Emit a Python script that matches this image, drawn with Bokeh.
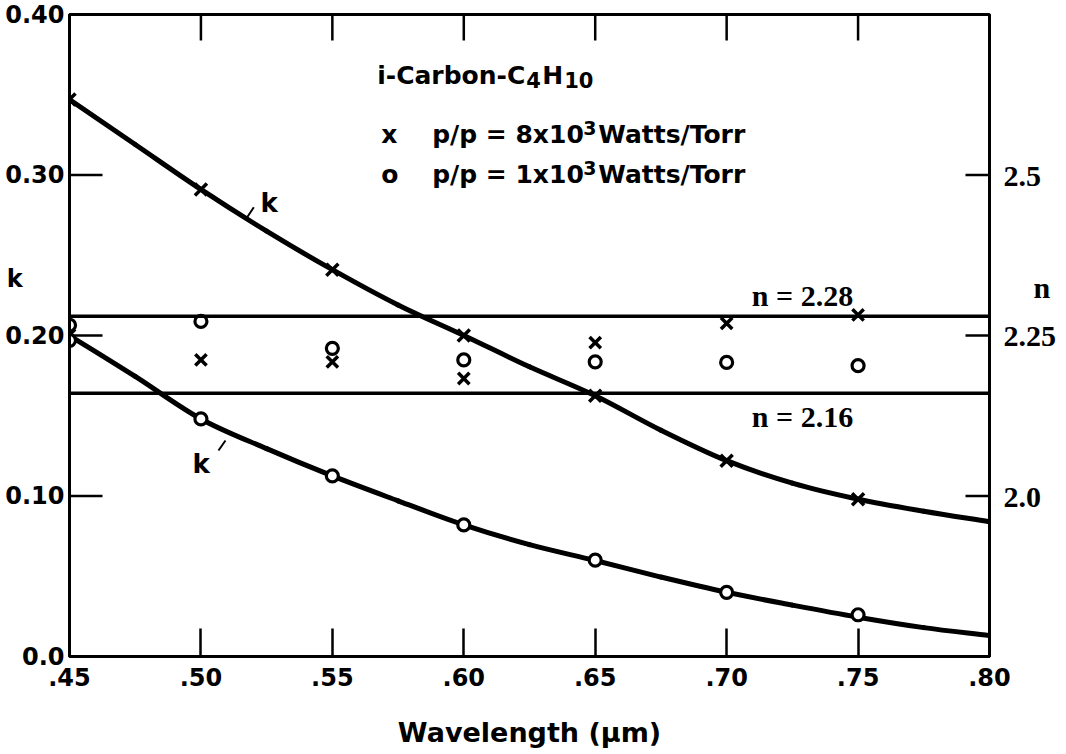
import math
import numpy as np
from bokeh.plotting import figure
from bokeh.models import (Range1d, LinearAxis, FixedTicker, CustomJSTickFormatter,
                          Span, Label)
from bokeh.embed import file_html
from bokeh.resources import INLINE

# Measured wavelengths (um)
wavelength = [0.45, 0.50, 0.55, 0.60, 0.65, 0.70, 0.75]

# Extinction coefficient k: x = 8x10^3 W/Torr, o = 1x10^3 W/Torr
k_high = [0.347, 0.291, 0.241, 0.200, 0.1625, 0.122, 0.098]
k_low = [0.197, 0.148, 0.1125, 0.082, 0.060, 0.040, 0.026]

# Refractive index n (right-hand scale)
n_high = [2.251, 2.212, 2.209, 2.183, 2.239, 2.269, 2.282]
n_low = [2.266, 2.272, 2.230, 2.212, 2.209, 2.208, 2.203]

# Smooth fitted k curves, sampled every 0.025 um
curve_wavelength = [0.45, 0.475, 0.50, 0.525, 0.55, 0.575, 0.60, 0.625,
                    0.65, 0.675, 0.70, 0.725, 0.75, 0.775, 0.80]
curve_k_high = [0.347, 0.319, 0.291, 0.265, 0.241, 0.219, 0.200, 0.1805,
                0.1625, 0.141, 0.122, 0.108, 0.098, 0.0905, 0.084]
curve_k_low = [0.200, 0.1745, 0.148, 0.1295, 0.1125, 0.097, 0.082, 0.0697,
               0.0598, 0.0495, 0.040, 0.032, 0.0245, 0.018, 0.013]

# Envelope of the measured n values
n_bounds = [2.28, 2.16]

x_ticks = [0.45, 0.50, 0.55, 0.60, 0.65, 0.70, 0.75, 0.80]
k_ticks = [0.0, 0.1, 0.2, 0.3, 0.4]
n_ticks = [2.0, 2.25, 2.5]

SANS = "DejaVu Sans"
SERIF = "Liberation Serif"

X_START, X_END = 0.45, 0.80
K_START, K_END = 0.0, 0.40
N_START, N_END = 1.75, 2.75

# frame: 920 px wide, 642 px tall, lower-left corner at (69, 656)
X0, Y0 = 69, 656
def px2x(px):
    return X_START + (px - X0) * (X_END - X_START) / 920.0

def py2k(py):
    return K_START + (Y0 - py) * (K_END - K_START) / 642.0

def k2n(k):
    return N_START + (k - K_START) * (N_END - N_START) / (K_END - K_START)


p = figure(width=1066, height=754, output_backend="svg", toolbar_location=None,
           x_range=Range1d(X_START, X_END), y_range=Range1d(K_START, K_END),
           x_axis_type=None, y_axis_type=None,
           min_border_left=69, min_border_right=77,
           min_border_top=14, min_border_bottom=98)
p.extra_y_ranges = {"n": Range1d(N_START, N_END)}
p.background_fill_color = "white"
p.border_fill_color = "white"
p.outline_line_color = "black"
p.outline_line_width = 3
p.outline_line_alpha = 1.0
p.xgrid.visible = False
p.ygrid.visible = False


def style_axis(ax, tick_in, font, size, standoff):
    ax.axis_line_width = 3
    ax.axis_line_color = "black"
    ax.major_tick_in = tick_in
    ax.major_tick_out = 0
    ax.major_tick_line_width = 2.5
    ax.major_tick_line_color = "black"
    ax.minor_tick_line_color = None
    ax.major_label_text_font = font
    ax.major_label_text_font_style = "bold"
    ax.major_label_text_font_size = size
    ax.major_label_text_color = "black"
    ax.major_label_standoff = standoff


# wavelength axis
bottom = LinearAxis(ticker=FixedTicker(ticks=x_ticks),
                    formatter=CustomJSTickFormatter(code="return tick.toFixed(2).slice(1)"))
style_axis(bottom, 28, SANS, "24px", 11)
bottom.axis_label = "Wavelength (μm)"
bottom.axis_label_text_font = SANS
bottom.axis_label_text_font_style = "bold"
bottom.axis_label_text_font_size = "27px"
bottom.axis_label_text_color = "black"
bottom.axis_label_standoff = 28
p.add_layout(bottom, "below")

# k axis: tick labels plus the axis name "k" (tick marks drawn separately)
k_name_pos = py2k(278)
left = LinearAxis(ticker=FixedTicker(ticks=k_ticks + [k_name_pos]),
                  formatter=CustomJSTickFormatter(
                      args=dict(pos=k_name_pos),
                      code="""
if (Math.abs(tick - pos) < 1e-9) return 'k' + '\\u00a0'.repeat(5);
return tick === 0 ? '0.0' : tick.toFixed(2);
"""))
style_axis(left, 0, SANS, "24px", 5)
p.add_layout(left, "left")

# n axis: tick labels plus the axis name "n"
n_name_pos = k2n(py2k(287))
right = LinearAxis(y_range_name="n", ticker=FixedTicker(ticks=n_ticks + [n_name_pos]),
                   formatter=CustomJSTickFormatter(
                       args=dict(pos=n_name_pos),
                       code="""
if (Math.abs(tick - pos) < 1e-9) return '\\u00a0'.repeat(4) + 'n';
return Math.abs(tick - 2.25) < 1e-9 ? '2.25' : tick.toFixed(1);
"""))
style_axis(right, 0, SERIF, "30px", 14)
p.add_layout(right, "right")

# inward tick marks on the left, right and top edges
p.ray(x=[X_START] * len(k_ticks), y=k_ticks, length=33, length_units="screen",
      angle=0, line_color="black", line_width=2.5)
p.ray(x=[X_END] * len(n_ticks), y=n_ticks, length=24, length_units="screen",
      angle=math.pi, line_color="black", line_width=2.5, y_range_name="n")
p.ray(x=x_ticks, y=[K_END] * len(x_ticks), length=26, length_units="screen",
      angle=-math.pi / 2, line_color="black", line_width=2.5)

# n envelope lines with their labels
for v, dy in zip(n_bounds, [21, -23]):
    p.add_layout(Span(location=v, dimension="width", y_range_name="n",
                      line_color="black", line_width=3.5))
    p.add_layout(Label(x=px2x(802), y=v, y_range_name="n", y_offset=dy,
                       text=f"n = {v:.2f}", text_align="center",
                       text_baseline="alphabetic", text_font=SERIF,
                       text_font_style="bold", text_font_size="30px",
                       text_color="black"))


def smooth_curve(xs, ys, **kw):
    """Draw a smooth curve through the sampled points as cubic Bezier pieces."""
    x = np.asarray(xs, float)
    y = np.asarray(ys, float)
    xp = np.concatenate([[2 * x[0] - x[1]], x, [2 * x[-1] - x[-2]]])
    yp = np.concatenate([[2 * y[0] - y[1]], y, [2 * y[-1] - y[-2]]])
    p.bezier(x0=x[:-1], y0=y[:-1], x1=x[1:], y1=y[1:],
             cx0=xp[1:-2] + (xp[2:-1] - xp[:-3]) / 6,
             cy0=yp[1:-2] + (yp[2:-1] - yp[:-3]) / 6,
             cx1=xp[2:-1] - (xp[3:] - xp[1:-2]) / 6,
             cy1=yp[2:-1] - (yp[3:] - yp[1:-2]) / 6, **kw)


smooth_curve(curve_wavelength, curve_k_high, line_color="black", line_width=5,
             line_cap="round")
smooth_curve(curve_wavelength, curve_k_low, line_color="black", line_width=5,
             line_cap="round")

# measured points
p.scatter(wavelength, k_high, marker="x", size=17, line_width=3.5, line_color="black")
p.scatter(wavelength, n_high, marker="x", size=16, line_width=3.5, line_color="black",
          y_range_name="n")
p.scatter(wavelength, k_low, marker="circle", size=12, line_width=3.2,
          line_color="black", fill_color="white")
p.scatter(wavelength, n_low, marker="circle", size=12, line_width=3.2,
          line_color="black", fill_color=None, y_range_name="n")

# curve labels with leader strokes
for (lx, ly), (ax0, ay0, ax1, ay1) in [((260, 202), (246.7, 216.7, 253.3, 206.7)),
                                         ((192, 463), (218, 450, 225, 440))]:
    p.add_layout(Label(x=px2x(lx), y=py2k(ly), text="k", text_align="left",
                       text_baseline="alphabetic", text_font=SANS,
                       text_font_style="bold", text_font_size="26px",
                       text_color="black"))
    p.segment(x0=[px2x(ax0)], y0=[py2k(ay0)], x1=[px2x(ax1)], y1=[py2k(ay1)],
              line_color="black", line_width=2)

# legend block
LX, LY = px2x(376.7), py2k(75)
legend_parts = [
    ("i-Carbon-C", 0, 0, "25px"),
    ("4", 149, -4, "21px"),
    ("H", 165, 0, "25px"),
    ("10", 187, -4, "21px"),
    ("x", 4, -59, "25px"),
    ("p/p = 8x10", 55, -59, "25px"),
    ("3", 206, -52, "19px"),
    ("Watts/Torr", 221, -59, "25px"),
    ("o", 4, -99, "25px"),
    ("p/p = 1x10", 55, -99, "25px"),
    ("3", 206, -92, "19px"),
    ("Watts/Torr", 221, -99, "25px"),
]
for txt, dx, dy, fs in legend_parts:
    p.add_layout(Label(x=LX, y=LY, x_offset=dx, y_offset=dy, text=txt,
                       text_align="left", text_baseline="alphabetic",
                       text_font=SANS, text_font_style="bold",
                       text_font_size=fs, text_color="black"))

open("out.html", "w").write(file_html(p, INLINE))
